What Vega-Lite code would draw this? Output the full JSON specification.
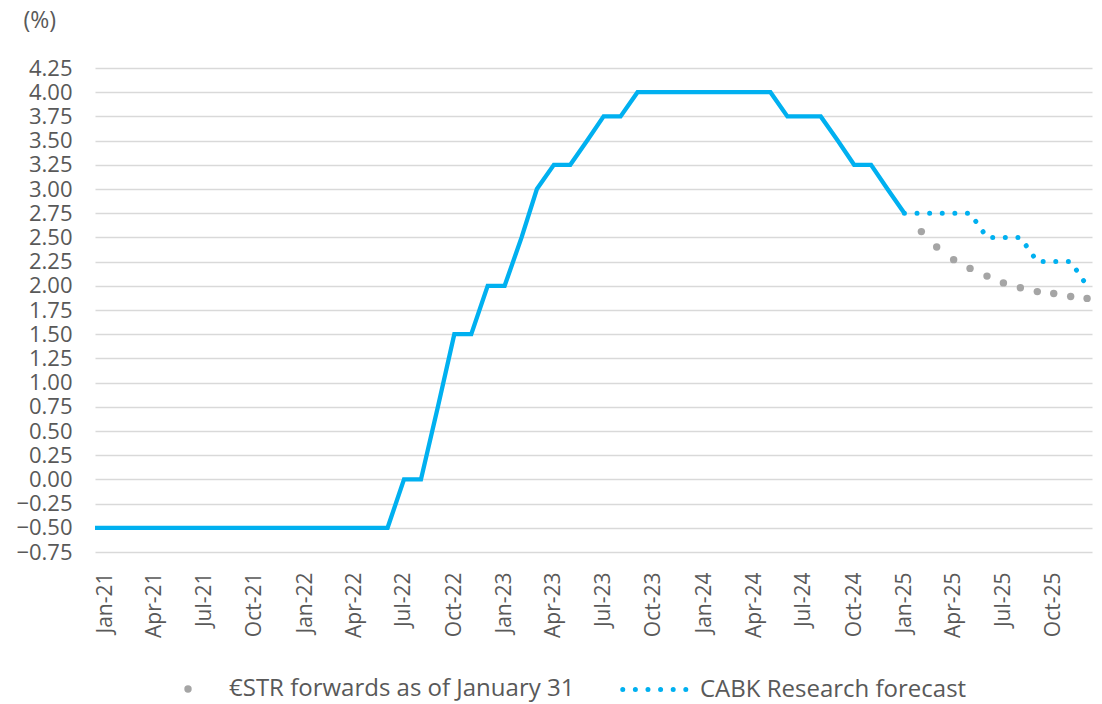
{
  "$schema": "https://vega.github.io/schema/vega-lite/v6.json",
  "width": 997,
  "height": 484,
  "autosize": {"type": "none"},
  "padding": {"left": 95, "top": 68, "right": 10, "bottom": 152},
  "background": "white",
  "config": {
    "view": {"stroke": null},
    "font": "Open Sans",
    "axis": {"labelFont": "Open Sans", "titleFont": "Open Sans"},
    "legend": {"labelFont": "Open Sans", "padding": 0}
  },
  "data": {
    "values": [
      {"month": "2020-12-01", "series": "Deposit facility rate", "rate": -0.5},
      {"month": "2021-01-01", "series": "Deposit facility rate", "rate": -0.5},
      {"month": "2021-02-01", "series": "Deposit facility rate", "rate": -0.5},
      {"month": "2021-03-01", "series": "Deposit facility rate", "rate": -0.5},
      {"month": "2021-04-01", "series": "Deposit facility rate", "rate": -0.5},
      {"month": "2021-05-01", "series": "Deposit facility rate", "rate": -0.5},
      {"month": "2021-06-01", "series": "Deposit facility rate", "rate": -0.5},
      {"month": "2021-07-01", "series": "Deposit facility rate", "rate": -0.5},
      {"month": "2021-08-01", "series": "Deposit facility rate", "rate": -0.5},
      {"month": "2021-09-01", "series": "Deposit facility rate", "rate": -0.5},
      {"month": "2021-10-01", "series": "Deposit facility rate", "rate": -0.5},
      {"month": "2021-11-01", "series": "Deposit facility rate", "rate": -0.5},
      {"month": "2021-12-01", "series": "Deposit facility rate", "rate": -0.5},
      {"month": "2022-01-01", "series": "Deposit facility rate", "rate": -0.5},
      {"month": "2022-02-01", "series": "Deposit facility rate", "rate": -0.5},
      {"month": "2022-03-01", "series": "Deposit facility rate", "rate": -0.5},
      {"month": "2022-04-01", "series": "Deposit facility rate", "rate": -0.5},
      {"month": "2022-05-01", "series": "Deposit facility rate", "rate": -0.5},
      {"month": "2022-06-01", "series": "Deposit facility rate", "rate": -0.5},
      {"month": "2022-07-01", "series": "Deposit facility rate", "rate": 0.0},
      {"month": "2022-08-01", "series": "Deposit facility rate", "rate": 0.0},
      {"month": "2022-09-01", "series": "Deposit facility rate", "rate": 0.75},
      {"month": "2022-10-01", "series": "Deposit facility rate", "rate": 1.5},
      {"month": "2022-11-01", "series": "Deposit facility rate", "rate": 1.5},
      {"month": "2022-12-01", "series": "Deposit facility rate", "rate": 2.0},
      {"month": "2023-01-01", "series": "Deposit facility rate", "rate": 2.0},
      {"month": "2023-02-01", "series": "Deposit facility rate", "rate": 2.5},
      {"month": "2023-03-01", "series": "Deposit facility rate", "rate": 3.0},
      {"month": "2023-04-01", "series": "Deposit facility rate", "rate": 3.25},
      {"month": "2023-05-01", "series": "Deposit facility rate", "rate": 3.25},
      {"month": "2023-06-01", "series": "Deposit facility rate", "rate": 3.5},
      {"month": "2023-07-01", "series": "Deposit facility rate", "rate": 3.75},
      {"month": "2023-08-01", "series": "Deposit facility rate", "rate": 3.75},
      {"month": "2023-09-01", "series": "Deposit facility rate", "rate": 4.0},
      {"month": "2023-10-01", "series": "Deposit facility rate", "rate": 4.0},
      {"month": "2023-11-01", "series": "Deposit facility rate", "rate": 4.0},
      {"month": "2023-12-01", "series": "Deposit facility rate", "rate": 4.0},
      {"month": "2024-01-01", "series": "Deposit facility rate", "rate": 4.0},
      {"month": "2024-02-01", "series": "Deposit facility rate", "rate": 4.0},
      {"month": "2024-03-01", "series": "Deposit facility rate", "rate": 4.0},
      {"month": "2024-04-01", "series": "Deposit facility rate", "rate": 4.0},
      {"month": "2024-05-01", "series": "Deposit facility rate", "rate": 4.0},
      {"month": "2024-06-01", "series": "Deposit facility rate", "rate": 3.75},
      {"month": "2024-07-01", "series": "Deposit facility rate", "rate": 3.75},
      {"month": "2024-08-01", "series": "Deposit facility rate", "rate": 3.75},
      {"month": "2024-09-01", "series": "Deposit facility rate", "rate": 3.5},
      {"month": "2024-10-01", "series": "Deposit facility rate", "rate": 3.25},
      {"month": "2024-11-01", "series": "Deposit facility rate", "rate": 3.25},
      {"month": "2024-12-01", "series": "Deposit facility rate", "rate": 3.0},
      {"month": "2025-01-01", "series": "Deposit facility rate", "rate": 2.75},
      {"month": "2025-01-01", "series": "CABK Research forecast", "rate": 2.75},
      {"month": "2025-02-01", "series": "CABK Research forecast", "rate": 2.75},
      {"month": "2025-03-01", "series": "CABK Research forecast", "rate": 2.75},
      {"month": "2025-04-01", "series": "CABK Research forecast", "rate": 2.75},
      {"month": "2025-05-01", "series": "CABK Research forecast", "rate": 2.75},
      {"month": "2025-06-01", "series": "CABK Research forecast", "rate": 2.5},
      {"month": "2025-07-01", "series": "CABK Research forecast", "rate": 2.5},
      {"month": "2025-08-01", "series": "CABK Research forecast", "rate": 2.5},
      {"month": "2025-09-01", "series": "CABK Research forecast", "rate": 2.25},
      {"month": "2025-10-01", "series": "CABK Research forecast", "rate": 2.25},
      {"month": "2025-11-01", "series": "CABK Research forecast", "rate": 2.25},
      {"month": "2025-12-01", "series": "CABK Research forecast", "rate": 2.0},
      {"month": "2025-02-01", "series": "€STR forwards as of January 31", "rate": 2.56},
      {"month": "2025-03-01", "series": "€STR forwards as of January 31", "rate": 2.40},
      {"month": "2025-04-01", "series": "€STR forwards as of January 31", "rate": 2.27},
      {"month": "2025-05-01", "series": "€STR forwards as of January 31", "rate": 2.18},
      {"month": "2025-06-01", "series": "€STR forwards as of January 31", "rate": 2.10},
      {"month": "2025-07-01", "series": "€STR forwards as of January 31", "rate": 2.03},
      {"month": "2025-08-01", "series": "€STR forwards as of January 31", "rate": 1.98},
      {"month": "2025-09-01", "series": "€STR forwards as of January 31", "rate": 1.94},
      {"month": "2025-10-01", "series": "€STR forwards as of January 31", "rate": 1.92},
      {"month": "2025-11-01", "series": "€STR forwards as of January 31", "rate": 1.89},
      {"month": "2025-12-01", "series": "€STR forwards as of January 31", "rate": 1.87}
    ]
  },
  "encoding": {
    "x": {
      "field": "month",
      "type": "temporal",
      "scale": {
        "type": "utc",
        "domain": [
          {"year": 2020, "month": 12, "date": 13, "utc": true},
          {"year": 2025, "month": 12, "date": 10, "utc": true}
        ]
      },
      "axis": {
        "title": null,
        "format": "%b-%y",
        "values": [
          {"year": 2021, "month": 1, "date": 1, "utc": true},
          {"year": 2021, "month": 4, "date": 1, "utc": true},
          {"year": 2021, "month": 7, "date": 1, "utc": true},
          {"year": 2021, "month": 10, "date": 1, "utc": true},
          {"year": 2022, "month": 1, "date": 1, "utc": true},
          {"year": 2022, "month": 4, "date": 1, "utc": true},
          {"year": 2022, "month": 7, "date": 1, "utc": true},
          {"year": 2022, "month": 10, "date": 1, "utc": true},
          {"year": 2023, "month": 1, "date": 1, "utc": true},
          {"year": 2023, "month": 4, "date": 1, "utc": true},
          {"year": 2023, "month": 7, "date": 1, "utc": true},
          {"year": 2023, "month": 10, "date": 1, "utc": true},
          {"year": 2024, "month": 1, "date": 1, "utc": true},
          {"year": 2024, "month": 4, "date": 1, "utc": true},
          {"year": 2024, "month": 7, "date": 1, "utc": true},
          {"year": 2024, "month": 10, "date": 1, "utc": true},
          {"year": 2025, "month": 1, "date": 1, "utc": true},
          {"year": 2025, "month": 4, "date": 1, "utc": true},
          {"year": 2025, "month": 7, "date": 1, "utc": true},
          {"year": 2025, "month": 10, "date": 1, "utc": true}
        ],
        "labelAngle": -90,
        "labelAlign": "right",
        "labelBaseline": "middle",
        "labelFontSize": 21,
        "labelColor": "#595959",
        "labelPadding": 20,
        "labelOverlap": false,
        "labelFlush": false,
        "labelBound": false,
        "ticks": false,
        "tickSize": 0,
        "domain": false,
        "grid": false
      }
    },
    "y": {
      "field": "rate",
      "type": "quantitative",
      "scale": {"domain": [-0.75, 4.25], "nice": false, "zero": false},
      "axis": {
        "title": "(%)",
        "titleAngle": 0,
        "titleX": -72,
        "titleY": -48,
        "titleAlign": "left",
        "titleBaseline": "middle",
        "titleFontSize": 23,
        "titleFontWeight": "normal",
        "titleColor": "#595959",
        "values": [-0.75, -0.5, -0.25, 0, 0.25, 0.5, 0.75, 1, 1.25, 1.5, 1.75, 2, 2.25, 2.5, 2.75, 3, 3.25, 3.5, 3.75, 4, 4.25],
        "format": ".2f",
        "labelFontSize": 22,
        "labelColor": "#595959",
        "labelPadding": 23,
        "labelOverlap": false,
        "labelFlush": false,
        "ticks": false,
        "tickSize": 0,
        "domain": false,
        "grid": true,
        "gridColor": "#D9D9D9",
        "gridWidth": 1.4
      }
    }
  },
  "layer": [
    {
      "transform": [{"filter": "datum.series === '€STR forwards as of January 31'"}],
      "mark": {"type": "point", "filled": true, "size": 55, "opacity": 1},
      "encoding": {
        "color": {
          "field": "series",
          "type": "nominal",
          "scale": {"domain": ["€STR forwards as of January 31"], "range": ["#A5A5A5"]},
          "legend": {
            "orient": "none",
            "legendX": 81,
            "legendY": 609,
            "title": null,
            "labelFontSize": 24,
            "labelLimit": 0,
            "labelColor": "#595959",
            "symbolType": "circle",
            "symbolSize": 55,
            "symbolStrokeWidth": 0,
            "labelOffset": 29,
            "padding": 0
          }
        }
      }
    },
    {
      "transform": [{"filter": "datum.series === 'CABK Research forecast'"}],
      "mark": {"type": "line", "color": "#00B0F0", "strokeWidth": 5, "strokeCap": "round"},
      "encoding": {
        "strokeDash": {
          "field": "series",
          "type": "nominal",
          "scale": {"domain": ["CABK Research forecast"], "range": [[0.01, 12.6]]},
          "legend": {
            "orient": "none",
            "legendX": 525,
            "legendY": 587,
            "title": null,
            "labelFontSize": 24,
            "labelLimit": 0,
            "labelColor": "#595959",
            "symbolType": "stroke",
            "symbolSize": 4032,
            "symbolStrokeWidth": 5,
            "symbolStrokeColor": "#00B0F0",
            "symbolDash": [0.01, 12.6],
            "labelOffset": 11,
            "padding": 0,
            "encode": {"symbols": {"update": {"strokeCap": {"value": "round"}}}}
          }
        }
      }
    },
    {
      "transform": [{"filter": "datum.series === 'Deposit facility rate'"}],
      "mark": {"type": "line", "color": "#00B0F0", "strokeWidth": 4.3, "clip": true},
      "encoding": {}
    }
  ]
}
